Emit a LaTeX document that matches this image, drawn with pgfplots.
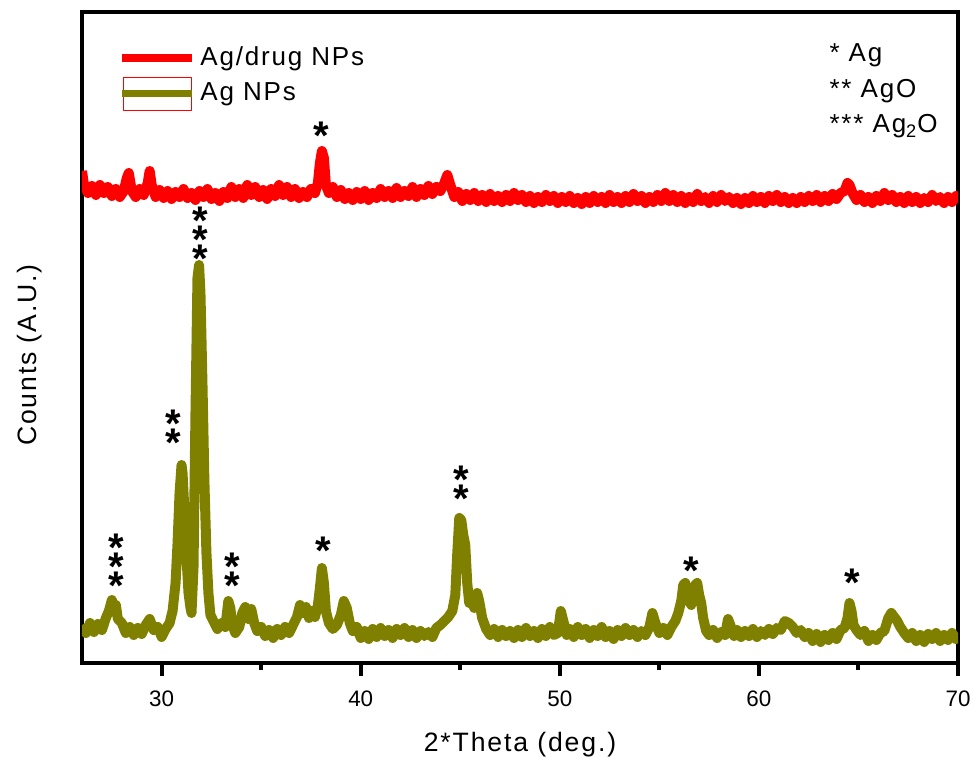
\documentclass[border=0pt]{standalone}
\usepackage{fontspec}
\setmainfont{Liberation Sans}[LetterSpace=7]
\newfontfamily\tickfont{Liberation Sans}
\usepackage{pgfplots}
\pgfplotsset{compat=1.18}

\definecolor{agred}{RGB}{255,0,0}
\definecolor{agolive}{RGB}{128,128,0}
\newcommand\starfont{\fontsize{20}{9.5}\selectfont\bfseries\lineskiplimit=-100pt\relax}
\tikzset{
  stars/.style={font=\starfont, align=center, anchor=south, inner sep=0pt, yshift=-11.6pt},
  key/.style={anchor=base west, inner sep=0pt, font=\fontsize{13}{15}\selectfont},
}
\pgfplotsset{
  lineleg/.style={legend image code/.code={\draw[##1, line width=4pt] (0pt,0pt) -- (35pt,0pt);}},
  boxleg/.style={legend image code/.code={
    \draw[agred, line width=0.6pt] (0.5pt,-8.5pt) rectangle (34.5pt,8pt);
    \draw[##1, line width=3.6pt] (0pt,0pt) -- (35pt,0pt);}},
}

\begin{document}
\begin{tikzpicture}
\useasboundingbox (-41pt,-47.5pt) rectangle (447pt,331.5pt);
\begin{axis}[
  scale only axis, width=438pt, height=325.5pt,
  xmin=26, xmax=70, ymin=0, ymax=651,
  xtick={30,40,50,60,70}, minor xtick={35,45,55,65},
  xtick pos=bottom, ytick=\empty,
  tick align=outside, major tick length=6.5pt, minor tick length=3.5pt,
  every tick/.style={black, line width=2pt},
  axis line style={line width=2.2pt},
  /pgf/number format/assume math mode=true,
  tick label style={font=\tickfont\fontsize{11.2}{13}\selectfont},
  x tick label style={yshift=-4pt},
  xlabel={2*Theta (deg.)}, ylabel={Counts (A.U.)},
  label style={font=\fontsize{13.3}{15}\selectfont},
  xlabel style={at={(axis description cs:0.5,0)}, anchor=base, yshift=-44.5pt},
  ylabel style={at={(axis description cs:-0.0514,0.473)}, anchor=base, rotate=0},
  clip mode=individual,
  legend style={at={(axis description cs:0.0411,0.9555)}, anchor=north west,
    draw=none, fill=none, inner sep=0pt, row sep=0.5pt,
    font=\fontsize{13}{15}\selectfont,
    nodes={text height=10pt, text depth=3pt, inner sep=2pt}},
  legend cell align=left,
  every axis plot/.append style={line width=5pt, line join=round},
]
% Ag/drug NPs
\addplot[agred, lineleg] coordinates {
(26.0,492) (26.1,478) (26.3,470) (26.5,477) (26.7,468) (26.9,478) (27.1,470) (27.3,476)
(27.5,467) (27.7,474) (27.9,466) (28.1,472) (28.25,485) (28.35,490) (28.5,472) (28.7,466)
(28.9,474) (29.1,468) (29.3,480) (29.4,492) (29.5,478) (29.7,466) (29.9,473) (30.1,465)
(30.3,472) (30.5,464) (30.7,471) (30.9,466) (31.1,474) (31.3,465) (31.5,470) (31.7,463)
(31.9,472) (32.1,466) (32.3,474) (32.5,464) (32.7,470) (32.9,462) (33.1,471) (33.3,465)
(33.5,476) (33.7,466) (33.9,474) (34.1,465) (34.3,478) (34.5,468) (34.7,476) (34.9,466)
(35.1,473) (35.3,464) (35.5,474) (35.7,467) (35.9,478) (36.1,468) (36.3,476) (36.5,466)
(36.7,474) (36.9,465) (37.1,471) (37.3,466) (37.5,474) (37.7,470) (37.85,480) (37.95,500)
(38.05,512) (38.15,505) (38.25,478) (38.4,470) (38.6,476) (38.8,466) (39.0,473) (39.2,464)
(39.4,470) (39.6,463) (39.8,471) (40.0,464) (40.2,472) (40.4,463) (40.6,470) (40.8,465)
(41.0,474) (41.2,466) (41.4,472) (41.6,465) (41.8,475) (42.0,466) (42.2,472) (42.4,467)
(42.6,476) (42.8,466) (43.0,474) (43.2,468) (43.4,477) (43.6,469) (43.8,476) (44.0,472)
(44.2,480) (44.35,488) (44.5,478) (44.7,466) (44.9,471) (45.1,462) (45.3,469) (45.5,463)
(45.7,470) (45.9,462) (46.1,468) (46.3,461) (46.5,469) (46.7,462) (46.9,467) (47.1,461)
(47.3,468) (47.5,462) (47.7,470) (47.9,463) (48.1,468) (48.3,461) (48.5,467) (48.7,460)
(48.9,466) (49.1,461) (49.3,468) (49.5,462) (49.7,467) (49.9,460) (50.1,466) (50.3,461)
(50.5,467) (50.7,460) (50.9,465) (51.1,459) (51.3,466) (51.5,460) (51.7,467) (51.9,461)
(52.1,466) (52.3,460) (52.5,468) (52.7,461) (52.9,466) (53.1,460) (53.3,467) (53.5,461)
(53.7,469) (53.9,462) (54.1,467) (54.3,460) (54.5,466) (54.7,461) (54.9,468) (55.1,462)
(55.3,470) (55.5,462) (55.7,468) (55.9,461) (56.1,467) (56.3,460) (56.5,466) (56.7,461)
(56.9,469) (57.1,462) (57.3,466) (57.5,460) (57.7,467) (57.9,461) (58.1,468) (58.3,462)
(58.5,466) (58.7,460) (58.9,465) (59.1,459) (59.3,465) (59.5,460) (59.7,467) (59.9,461)
(60.1,466) (60.3,460) (60.5,467) (60.7,462) (60.9,468) (61.1,461) (61.3,466) (61.5,460)
(61.7,465) (61.9,460) (62.1,466) (62.3,461) (62.5,467) (62.7,462) (62.9,468) (63.1,461)
(63.3,467) (63.5,462) (63.7,469) (63.9,464) (64.1,470) (64.3,472) (64.45,480) (64.55,478)
(64.7,470) (64.9,463) (65.1,468) (65.3,461) (65.5,466) (65.7,460) (65.9,467) (66.1,462)
(66.3,470) (66.5,463) (66.7,468) (66.9,461) (67.1,466) (67.3,460) (67.5,467) (67.7,461)
(67.9,466) (68.1,460) (68.3,465) (68.5,461) (68.7,468) (68.9,462) (69.1,466) (69.3,460)
(69.5,466) (69.7,461) (69.9,467) (70.0,463)
};
\addlegendentry{Ag/drug NPs}
% Ag NPs
\addplot[agolive, boxleg] coordinates {
(26.0,38) (26.2,30) (26.4,40) (26.6,31) (26.8,39) (27.0,33) (27.2,45) (27.35,52)
(27.5,63) (27.6,55) (27.7,58) (27.8,44) (28.0,40) (28.2,30) (28.4,36) (28.6,28)
(28.8,35) (29.0,29) (29.2,38) (29.4,44) (29.6,33) (29.8,36) (30.0,26) (30.2,34)
(30.4,40) (30.55,52) (30.7,80) (30.8,120) (30.9,170) (31.0,198) (31.05,190) (31.15,150)
(31.25,105) (31.35,70) (31.45,55) (31.5,50) (31.6,95) (31.7,250) (31.8,385) (31.88,398)
(31.95,370) (32.05,280) (32.15,180) (32.25,110) (32.35,70) (32.45,48) (32.6,42) (32.8,34)
(33.0,40) (33.2,36) (33.35,62) (33.45,55) (33.55,38) (33.7,30) (33.9,36) (34.05,50)
(34.2,56) (34.35,44) (34.5,54) (34.65,40) (34.8,32) (35.0,36) (35.2,27) (35.4,33)
(35.6,25) (35.8,34) (36.0,28) (36.2,36) (36.4,30) (36.6,38) (36.8,46) (36.95,58)
(37.1,50) (37.25,56) (37.4,45) (37.55,52) (37.7,46) (37.85,58) (37.95,75) (38.05,95)
(38.15,80) (38.25,52) (38.4,40) (38.6,34) (38.8,38) (39.0,48) (39.15,62) (39.3,55)
(39.45,40) (39.6,32) (39.8,36) (40.0,25) (40.2,32) (40.4,24) (40.6,34) (40.8,26)
(41.0,35) (41.2,27) (41.4,33) (41.6,25) (41.8,34) (42.0,28) (42.2,35) (42.4,26)
(42.6,33) (42.8,25) (43.0,32) (43.2,27) (43.4,31) (43.6,26) (43.8,35) (44.0,38)
(44.2,42) (44.4,46) (44.6,52) (44.75,68) (44.85,110) (44.95,145) (45.05,143) (45.15,128)
(45.25,118) (45.35,80) (45.45,60) (45.55,68) (45.7,55) (45.85,70) (45.95,62) (46.1,45)
(46.3,34) (46.5,28) (46.7,34) (46.9,26) (47.1,33) (47.3,27) (47.5,32) (47.7,25)
(47.9,33) (48.1,26) (48.3,35) (48.5,27) (48.7,32) (48.9,25) (49.1,34) (49.3,27)
(49.5,36) (49.7,28) (49.9,30) (50.05,52) (50.2,40) (50.35,28) (50.5,34) (50.7,26)
(50.9,36) (51.1,28) (51.3,34) (51.5,25) (51.7,33) (51.9,27) (52.1,36) (52.3,26)
(52.5,32) (52.7,24) (52.9,33) (53.1,27) (53.3,35) (53.5,28) (53.7,33) (53.9,26)
(54.1,32) (54.3,28) (54.5,36) (54.65,50) (54.8,40) (55.0,30) (55.2,35) (55.4,28)
(55.6,36) (55.8,42) (55.95,50) (56.1,62) (56.2,78) (56.3,80) (56.4,70) (56.5,62)
(56.6,58) (56.7,70) (56.8,78) (56.9,80) (57.0,68) (57.1,60) (57.2,45) (57.35,32)
(57.5,28) (57.7,33) (57.9,25) (58.1,31) (58.3,28) (58.45,44) (58.6,36) (58.75,27)
(58.9,33) (59.1,26) (59.3,32) (59.5,27) (59.7,34) (59.9,26) (60.1,32) (60.3,28)
(60.5,34) (60.7,29) (60.9,35) (61.1,33) (61.3,42) (61.5,40) (61.7,36) (61.9,30)
(62.1,33) (62.3,26) (62.5,30) (62.7,22) (62.9,29) (63.1,21) (63.3,28) (63.5,23)
(63.7,30) (63.9,24) (64.1,33) (64.3,35) (64.45,45) (64.55,60) (64.65,52) (64.75,38)
(64.9,33) (65.1,28) (65.3,32) (65.5,22) (65.7,28) (65.9,23) (66.1,30) (66.3,32)
(66.5,45) (66.65,50) (66.8,46) (66.95,42) (67.1,36) (67.3,30) (67.5,25) (67.7,30)
(67.9,22) (68.1,28) (68.3,21) (68.5,29) (68.7,24) (68.9,30) (69.1,22) (69.3,28)
(69.5,23) (69.7,30) (69.9,24) (70.0,27)
};
\addlegendentry{Ag NPs}

% peak markers, placed at the centre of the lowest star (y = 663 - pixel row)
\node[stars] at (axis cs:27.7,86) {*\\*\\*};
\node[stars] at (axis cs:30.6,229) {*\\*};
\node[stars] at (axis cs:31.92,413) {*\\*\\*};
\node[stars] at (axis cs:33.53,86) {*\\*};
\node[stars] at (axis cs:38.1,121) {*};
\node[stars] at (axis cs:45.07,173) {*\\*};
\node[stars] at (axis cs:56.6,101) {*};
\node[stars] at (axis cs:64.69,89) {*};
\node[stars] at (axis cs:38.04,536) {*};

% phase key
\node[key] at (axis cs:63.53,601) {* Ag};
\node[key] at (axis cs:63.53,565) {** AgO};
\node[key] at (axis cs:63.53,530) {*** Ag\textsubscript{2}O};
\end{axis}
\end{tikzpicture}
\end{document}
